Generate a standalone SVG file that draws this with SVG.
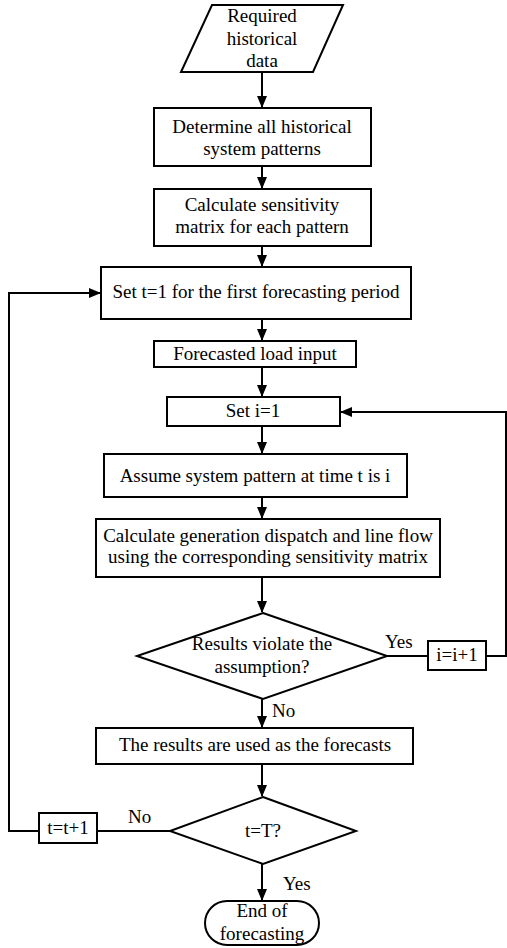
<svg xmlns="http://www.w3.org/2000/svg" width="507" height="948" viewBox="0 0 507 948">
<style>
.n{fill:#fff;stroke:#000;stroke-width:2}
.t{font-family:"Liberation Serif","Times New Roman",serif;font-size:19px;fill:#000;text-anchor:middle}
.l{font-family:"Liberation Serif","Times New Roman",serif;font-size:19px;fill:#000}
.c{fill:none;stroke:#000;stroke-width:2}
</style>
<defs>
<marker id="a" markerUnits="userSpaceOnUse" markerWidth="12" markerHeight="10" refX="11" refY="5" orient="auto">
<path d="M0,0 L12,5 L0,10 Z" fill="#000"/>
</marker>
</defs>
<rect width="507" height="948" fill="#fff"/>
<g id="connectors">
<line class="c" x1="262" y1="72" x2="262" y2="107" marker-end="url(#a)"/>
<line class="c" x1="262" y1="166" x2="262" y2="188" marker-end="url(#a)"/>
<line class="c" x1="262" y1="246" x2="262" y2="266" marker-end="url(#a)"/>
<line class="c" x1="262" y1="319" x2="262" y2="340" marker-end="url(#a)"/>
<line class="c" x1="262" y1="367" x2="262" y2="396" marker-end="url(#a)"/>
<line class="c" x1="262" y1="426" x2="262" y2="453" marker-end="url(#a)"/>
<line class="c" x1="262" y1="497" x2="262" y2="518" marker-end="url(#a)"/>
<line class="c" x1="262" y1="577" x2="262" y2="612" marker-end="url(#a)"/>
<line class="c" x1="262" y1="699" x2="262" y2="727" marker-end="url(#a)"/>
<line class="c" x1="262" y1="764" x2="262" y2="796" marker-end="url(#a)"/>
<line class="c" x1="262" y1="864" x2="262" y2="900" marker-end="url(#a)"/>
<polyline class="c" points="387,656 428,656"/>
<polyline class="c" points="486,656 506,656 506,412 341,412" marker-end="url(#a)"/>
<polyline class="c" points="170,831 97,831"/>
<polyline class="c" points="39,831 9,831 9,293 100,293" marker-end="url(#a)"/>
<text class="l" x="385" y="648">Yes</text>
<text class="l" x="272" y="717">No</text>
<text class="l" x="128" y="823">No</text>
<text class="l" x="283" y="890">Yes</text>
</g>
<g id="n1"><polygon class="n" points="212,5 343,5 313,72 181,72"/>
<text class="t" x="262" y="22">Required</text><text class="t" x="262" y="45">historical</text><text class="t" x="262" y="67">data</text></g>
<g id="n2"><rect class="n" x="154" y="108" width="217" height="58"/>
<text class="t" x="262" y="133">Determine all historical</text><text class="t" x="262" y="155">system patterns</text></g>
<g id="n3"><rect class="n" x="154" y="189" width="217" height="57"/>
<text class="t" x="262" y="211">Calculate sensitivity</text><text class="t" x="262" y="233">matrix for each pattern</text></g>
<g id="n4"><rect class="n" x="101" y="267" width="310" height="52"/>
<text class="t" x="256" y="298">Set t=1 for the first forecasting period</text></g>
<g id="n5"><rect class="n" x="154" y="341" width="202" height="26"/>
<text class="t" x="255" y="360">Forecasted load input</text></g>
<g id="n6"><rect class="n" x="167" y="397" width="173" height="29"/>
<text class="t" x="253" y="417">Set i=1</text></g>
<g id="n7"><rect class="n" x="104" y="454" width="303" height="43"/>
<text class="t" x="255" y="482">Assume system pattern at time t is i</text></g>
<g id="n8"><rect class="n" x="96" y="519" width="344" height="58"/>
<text class="t" x="268" y="542">Calculate generation dispatch and line flow</text><text class="t" x="268" y="563">using the corresponding sensitivity matrix</text></g>
<g id="n9"><polygon class="n" points="263,613 387,656 263,699 137,656"/>
<text class="t" x="262" y="650">Results violate the</text><text class="t" x="262" y="673">assumption?</text></g>
<g id="n10"><rect class="n" x="428" y="641" width="58" height="29"/>
<text class="t" x="457" y="661">i=i+1</text></g>
<g id="n11"><rect class="n" x="96" y="728" width="317" height="36"/>
<text class="t" x="255" y="751">The results are used as the forecasts</text></g>
<g id="n12"><polygon class="n" points="263,797 356,831 263,864 170,831"/>
<text class="t" x="263" y="837">t=T?</text></g>
<g id="n13"><rect class="n" x="39" y="813" width="58" height="30"/>
<text class="t" x="68" y="834">t=t+1</text></g>
<g id="n14"><rect class="n" x="205" y="901" width="114" height="44" rx="22" ry="22"/>
<text class="t" x="262" y="917">End of</text><text class="t" x="262" y="940">forecasting</text></g>
</svg>
